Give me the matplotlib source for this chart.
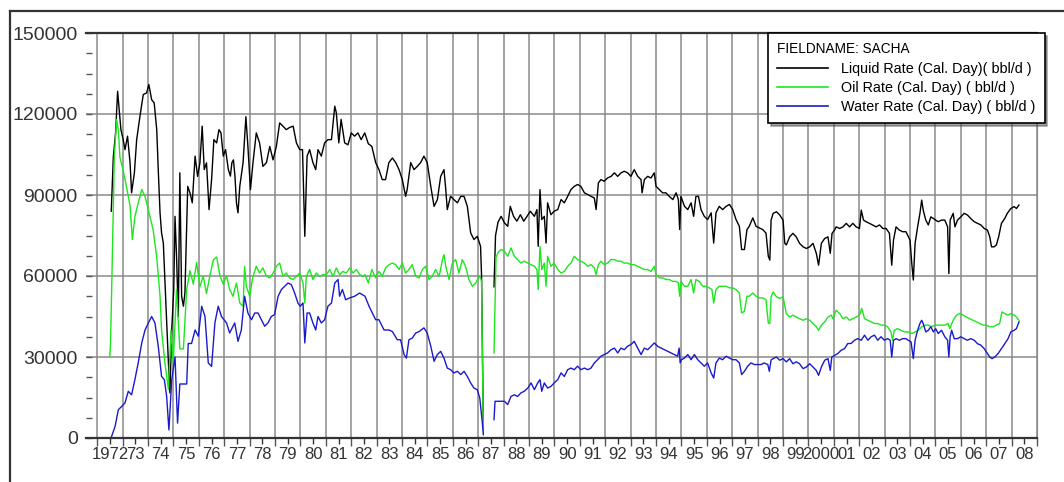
import numpy as np
import matplotlib
matplotlib.use('Agg')
import matplotlib.pyplot as plt
from matplotlib.lines import Line2D

plt.rcParams['font.family'] = ['Liberation Sans', 'DejaVu Sans']

# 液量 (黑线), 年份 / bbl/d ; 1987年停产段用 nan 断开
liquid_yr = [1972.55, 1972.63, 1972.72, 1972.80, 1972.85, 1972.93, 1973.02, 1973.09, 1973.19, 1973.29,
             1973.35, 1973.46, 1973.55, 1973.68, 1973.81, 1973.94, 1974.03, 1974.14, 1974.24, 1974.34,
             1974.40, 1974.47, 1974.53, 1974.60, 1974.66, 1974.73, 1974.80, 1974.86, 1974.93, 1975.01,
             1975.06, 1975.12, 1975.19, 1975.25, 1975.32, 1975.39, 1975.45, 1975.56, 1975.65, 1975.74,
             1975.85, 1975.95, 1976.04, 1976.13, 1976.21, 1976.30, 1976.40, 1976.50, 1976.59, 1976.70,
             1976.79, 1976.87, 1976.96, 1977.05, 1977.16, 1977.24, 1977.30, 1977.36, 1977.42, 1977.48,
             1977.54, 1977.61, 1977.74, 1977.85, 1977.93, 1978.03, 1978.13, 1978.26, 1978.39, 1978.52,
             1978.66, 1978.79, 1978.92, 1979.05, 1979.18, 1979.31, 1979.44, 1979.57, 1979.71, 1979.84,
             1979.97, 1980.08, 1980.17, 1980.26, 1980.36, 1980.49, 1980.60, 1980.69, 1980.82, 1980.95,
             1981.08, 1981.22, 1981.35, 1981.41, 1981.51, 1981.60, 1981.74, 1981.87, 1982.00, 1982.13,
             1982.26, 1982.39, 1982.53, 1982.67, 1982.81, 1982.96, 1983.09, 1983.22, 1983.35, 1983.48,
             1983.62, 1983.75, 1983.88, 1984.01, 1984.14, 1984.20, 1984.34, 1984.47, 1984.60, 1984.73,
             1984.86, 1984.99, 1985.13, 1985.26, 1985.39, 1985.52, 1985.65, 1985.72, 1985.78, 1985.91,
             1986.04, 1986.18, 1986.31, 1986.44, 1986.57, 1986.70, 1986.83, 1986.96, 1987.09, 1987.13,
             1987.16, 1987.20, 1987.40, 1987.62, 1987.68, 1987.78, 1987.90, 1988.03, 1988.16, 1988.26,
             1988.39, 1988.52, 1988.66, 1988.79, 1988.92, 1989.05, 1989.21, 1989.31, 1989.36, 1989.43,
             1989.50, 1989.60, 1989.67, 1989.73, 1989.86, 1989.99, 1990.13, 1990.26, 1990.39, 1990.52,
             1990.65, 1990.78, 1990.91, 1991.04, 1991.18, 1991.31, 1991.44, 1991.57, 1991.64, 1991.73,
             1991.83, 1991.96, 1992.09, 1992.23, 1992.36, 1992.49, 1992.62, 1992.75, 1992.88, 1993.01,
             1993.14, 1993.28, 1993.41, 1993.45, 1993.54, 1993.67, 1993.80, 1993.93, 1994.00, 1994.13,
             1994.26, 1994.39, 1994.52, 1994.66, 1994.79, 1994.88, 1994.93, 1994.98, 1995.12, 1995.25,
             1995.38, 1995.48, 1995.57, 1995.67, 1995.77, 1995.90, 1996.03, 1996.17, 1996.27, 1996.36,
             1996.49, 1996.62, 1996.76, 1996.89, 1997.02, 1997.15, 1997.28, 1997.37, 1997.48, 1997.58,
             1997.67, 1997.81, 1997.94, 1998.07, 1998.20, 1998.33, 1998.42, 1998.48, 1998.53, 1998.61,
             1998.74, 1998.87, 1999.00, 1999.07, 1999.13, 1999.26, 1999.39, 1999.52, 1999.65, 1999.79,
             1999.92, 2000.05, 2000.18, 2000.31, 2000.40, 2000.51, 2000.64, 2000.77, 2000.86, 2000.93,
             2001.03, 2001.09, 2001.23, 2001.36, 2001.49, 2001.62, 2001.75, 2001.88, 2002.01, 2002.08,
             2002.17, 2002.27, 2002.40, 2002.53, 2002.66, 2002.80, 2002.93, 2003.06, 2003.19, 2003.28,
             2003.35, 2003.45, 2003.58, 2003.71, 2003.84, 2004.00, 2004.07, 2004.13, 2004.20, 2004.30,
             2004.39, 2004.46, 2004.52, 2004.62, 2004.72, 2004.82, 2004.92, 2005.01, 2005.11, 2005.24,
             2005.37, 2005.48, 2005.53, 2005.58, 2005.70, 2005.77, 2005.87, 2006.00, 2006.13, 2006.26,
             2006.39, 2006.53, 2006.66, 2006.79, 2006.92, 2007.05, 2007.14, 2007.21, 2007.31, 2007.40,
             2007.49, 2007.60, 2007.73, 2007.83, 2007.97, 2008.10, 2008.19, 2008.29]
liquid_bpd = [84000, 104000, 113000, 128400, 122900, 114200, 110500, 106800, 111800, 101900,
              90800, 98200, 110500, 119200, 127200, 127800, 130900, 125300, 124100, 114200,
              99400, 83400, 76000, 72200, 58700, 42600, 27800, 16700, 40000, 55000,
              82100, 67300, 45000, 98200, 52500, 48800, 53700, 93200, 90800, 87100,
              104400, 96900, 101900, 115500, 99400, 101900, 84600, 95700, 110500, 109300,
              114200, 113000, 104400, 106800, 99400, 97000, 102000, 103000, 97000, 87000,
              83400, 93200, 102000, 119000, 108000, 92000, 102000, 113000, 109300, 100600,
              102000, 108000, 103000, 108000, 116700, 115500, 114200, 115000, 115500, 109300,
              106800, 106800, 74700, 104400, 106800, 102000, 99400, 106800, 104400, 109300,
              110500, 110500, 122900, 120500, 109300, 118000, 109300, 108600, 113000, 111800,
              113000, 110500, 113000, 109000, 108000, 102000, 99400, 95700, 95700, 102000,
              103700, 102000, 99400, 95700, 89500, 92000, 102000, 99400, 100600, 102000,
              104400, 102000, 93200, 85800, 88300, 96900, 99400, 92100, 84600, 89500,
              88300, 87100, 89500, 89500, 85800, 76000, 73500, 74700, 71000, 60000,
              37000, 3500, np.nan, 56000, 75000, 80000, 82100, 79700, 78400, 85800,
              82100, 80300, 82700, 80300, 82100, 84000, 82100, 84600, 71000, 92000,
              80900, 82100, 72200, 87100, 82700, 84000, 84600, 88300, 87100, 89500,
              92000, 93200, 93900, 93200, 90800, 90200, 89500, 88900, 84600, 94500,
              95700, 95100, 96300, 96900, 98200, 96900, 98200, 98800, 98200, 96900,
              99400, 96900, 95700, 90800, 95700, 96900, 96300, 98200, 93200, 92000,
              90800, 90800, 89500, 88300, 90800, 88300, 77200, 89500, 85800, 84600,
              87100, 82100, 89500, 89500, 84600, 82100, 80900, 83400, 72200, 83400,
              85800, 84600, 85800, 86500, 84600, 80900, 78400, 69800, 69800, 77200,
              78400, 81500, 78400, 77800, 77200, 75900, 67300, 65900, 80700, 83200,
              83800, 82600, 80700, 72100, 71500, 74500, 75800, 74500, 72100, 70800,
              70200, 70800, 72100, 68400, 64000, 72100, 73900, 74500, 68400, 75800,
              77000, 78200, 77600, 78200, 79500, 78200, 79500, 78200, 77600, 84400,
              80700, 80100, 79500, 78900, 78200, 78900, 77600, 77600, 75800, 64000,
              73300, 78200, 77000, 76400, 76400, 73300, 64600, 58500, 72100, 78200,
              83200, 88100, 84400, 80700, 78900, 81900, 81300, 80700, 80100, 80700,
              80700, 78200, 60900, 80700, 83200, 78200, 80700, 81900, 83200, 82600,
              81300, 80100, 79500, 78900, 77600, 77000, 74500, 70800, 70800, 71500,
              74500, 79500, 81300, 83200, 85000, 85700, 85000, 86300]

# 产油量 (绿线)
oil_yr = [1972.49, 1972.52, 1972.57, 1972.67, 1972.76, 1972.83, 1972.89, 1973.02, 1973.15, 1973.29,
          1973.38, 1973.48, 1973.61, 1973.75, 1973.88, 1974.01, 1974.20, 1974.34, 1974.47, 1974.53,
          1974.66, 1974.80, 1974.90, 1974.99, 1975.12, 1975.25, 1975.39, 1975.52, 1975.65, 1975.78,
          1975.91, 1976.04, 1976.17, 1976.30, 1976.43, 1976.57, 1976.70, 1976.83, 1976.96, 1977.09,
          1977.21, 1977.34, 1977.48, 1977.61, 1977.74, 1977.80, 1977.87, 1978.00, 1978.13, 1978.26,
          1978.39, 1978.52, 1978.66, 1978.79, 1978.92, 1979.05, 1979.18, 1979.31, 1979.44, 1979.57,
          1979.71, 1979.84, 1979.97, 1980.10, 1980.17, 1980.23, 1980.36, 1980.49, 1980.62, 1980.75,
          1980.89, 1981.02, 1981.15, 1981.28, 1981.41, 1981.54, 1981.67, 1981.80, 1981.94, 1982.07,
          1982.20, 1982.33, 1982.46, 1982.54, 1982.67, 1982.81, 1982.96, 1983.09, 1983.22, 1983.35,
          1983.49, 1983.62, 1983.75, 1983.88, 1984.01, 1984.14, 1984.27, 1984.40, 1984.54, 1984.67,
          1984.80, 1984.93, 1985.06, 1985.19, 1985.32, 1985.46, 1985.59, 1985.65, 1985.72, 1985.85,
          1985.98, 1986.11, 1986.24, 1986.37, 1986.50, 1986.63, 1986.77, 1986.90, 1987.03, 1987.09,
          1987.13, 1987.20, 1987.40, 1987.62, 1987.66, 1987.70, 1987.80, 1987.90, 1988.03, 1988.16,
          1988.29, 1988.42, 1988.55, 1988.68, 1988.81, 1988.95, 1989.08, 1989.21, 1989.31, 1989.36,
          1989.43, 1989.50, 1989.60, 1989.67, 1989.73, 1989.86, 1989.99, 1990.13, 1990.26, 1990.39,
          1990.52, 1990.65, 1990.78, 1990.91, 1991.04, 1991.18, 1991.31, 1991.44, 1991.57, 1991.64,
          1991.73, 1991.83, 1991.96, 1992.09, 1992.23, 1992.36, 1992.49, 1992.62, 1992.75, 1992.88,
          1993.01, 1993.14, 1993.28, 1993.41, 1993.54, 1993.67, 1993.80, 1993.93, 1994.00, 1994.13,
          1994.26, 1994.39, 1994.52, 1994.66, 1994.79, 1994.88, 1994.93, 1994.98, 1995.12, 1995.25,
          1995.38, 1995.48, 1995.57, 1995.70, 1995.84, 1995.97, 1996.10, 1996.20, 1996.27, 1996.36,
          1996.49, 1996.62, 1996.76, 1996.89, 1997.02, 1997.15, 1997.28, 1997.37, 1997.48, 1997.58,
          1997.67, 1997.81, 1997.94, 1998.07, 1998.20, 1998.33, 1998.42, 1998.48, 1998.53, 1998.61,
          1998.74, 1998.87, 1999.00, 1999.13, 1999.26, 1999.39, 1999.52, 1999.65, 1999.79, 1999.92,
          2000.05, 2000.18, 2000.31, 2000.40, 2000.51, 2000.64, 2000.77, 2000.90, 2000.96, 2001.09,
          2001.23, 2001.36, 2001.49, 2001.62, 2001.75, 2001.88, 2002.01, 2002.10, 2002.21, 2002.34,
          2002.47, 2002.60, 2002.73, 2002.86, 2002.99, 2003.12, 2003.25, 2003.31, 2003.38, 2003.51,
          2003.64, 2003.77, 2003.91, 2004.07, 2004.20, 2004.33, 2004.46, 2004.59, 2004.72, 2004.85,
          2004.98, 2005.11, 2005.24, 2005.37, 2005.50, 2005.57, 2005.64, 2005.74, 2005.83, 2005.96,
          2006.09, 2006.22, 2006.35, 2006.49, 2006.62, 2006.75, 2006.88, 2007.01, 2007.14, 2007.27,
          2007.40, 2007.53, 2007.62, 2007.73, 2007.86, 2007.97, 2008.10, 2008.19, 2008.29]
oil_bpd = [30000, 35000, 57000, 104000, 118000, 114000, 104000, 99000, 93000, 86000,
           73500, 82000, 87000, 92000, 89500, 84500, 77000, 67000, 52500, 40000,
           28000, 18000, 40000, 28000, 55000, 33000, 33000, 55000, 62000, 57000,
           65000, 56000, 60000, 53500, 60000, 66000, 67000, 60000, 57000, 60000,
           55000, 52500, 57400, 50000, 48800, 63600, 56200, 52500, 59900, 63600,
           61100, 63000, 59900, 59300, 61100, 63600, 64800, 59900, 61100, 59300,
           58700, 59900, 61100, 57400, 50000, 59900, 62400, 58700, 61100, 59900,
           60500, 60500, 62400, 59900, 63000, 60500, 61700, 61100, 63000, 61100,
           62400, 60500, 59900, 60500, 57400, 62400, 59300, 61700, 59900, 63000,
           64200, 64800, 64200, 62400, 64800, 61100, 62400, 64200, 59900, 59300,
           62400, 63600, 58700, 59900, 62400, 59900, 66100, 67900, 63600, 58700,
           64800, 66100, 61100, 66100, 63600, 58700, 56200, 57400, 59900, 59300,
           58000, 2000, np.nan, 31500, 50000, 67000, 69000, 69800, 69200, 67300,
           70400, 67300, 66100, 64800, 65500, 64800, 64200, 63600, 62400, 55000,
           71000, 62400, 64800, 56200, 67300, 63600, 64800, 62400, 61100, 61700,
           63600, 64800, 67300, 66100, 65500, 64800, 63600, 64200, 63000, 60500,
           64200, 65500, 64200, 64800, 66100, 66100, 65500, 65500, 64800, 64800,
           64200, 64200, 63600, 63000, 62400, 62400, 61700, 63600, 60500, 59300,
           59300, 58700, 58700, 58000, 58000, 57400, 52500, 58000, 56200, 56200,
           58700, 53700, 58700, 58000, 56200, 56200, 55600, 55000, 50000, 55000,
           56200, 56200, 56200, 55600, 55600, 55000, 53700, 46300, 46900, 52500,
           52500, 53700, 52500, 51900, 51900, 51200, 42600, 42400, 52300, 54100,
           52300, 51700, 52300, 46100, 44800, 45500, 44800, 44200, 43600, 44200,
           43600, 42400, 41200, 39900, 41800, 43000, 44800, 45500, 44200, 47300,
           46100, 44200, 44800, 43600, 44200, 44800, 45500, 48000, 44200, 43600,
           43000, 42400, 42400, 41800, 41800, 41200, 39300, 36200, 39900, 40500,
           39900, 39300, 39300, 38700, 39300, 39900, 41200, 41800, 41800, 41200,
           41800, 41800, 41800, 41800, 42400, 40500, 42400, 44200, 45500, 46100,
           45500, 44800, 44200, 43600, 43000, 42400, 41800, 41800, 41200, 41200,
           41800, 42400, 46700, 46100, 45500, 46100, 45500, 44800, 43600]

# 产水量 (蓝线)
water_yr = [1972.52, 1972.56, 1972.70, 1972.83, 1972.96, 1973.09, 1973.22, 1973.35, 1973.48, 1973.61,
            1973.75, 1973.88, 1974.01, 1974.14, 1974.27, 1974.40, 1974.53, 1974.64, 1974.73, 1974.82,
            1974.93, 1975.06, 1975.16, 1975.25, 1975.35, 1975.52, 1975.58, 1975.71, 1975.85, 1975.98,
            1976.11, 1976.24, 1976.37, 1976.50, 1976.63, 1976.76, 1976.89, 1977.09, 1977.21, 1977.41,
            1977.54, 1977.67, 1977.80, 1977.93, 1978.07, 1978.20, 1978.33, 1978.46, 1978.59, 1978.72,
            1978.85, 1978.98, 1979.12, 1979.25, 1979.38, 1979.51, 1979.64, 1979.77, 1979.90, 1979.99,
            1980.10, 1980.17, 1980.26, 1980.36, 1980.49, 1980.60, 1980.69, 1980.82, 1980.95, 1981.08,
            1981.22, 1981.35, 1981.48, 1981.54, 1981.65, 1981.78, 1981.94, 1982.13, 1982.33, 1982.54,
            1982.70, 1982.96, 1983.09, 1983.29, 1983.49, 1983.62, 1983.81, 1983.94, 1984.08, 1984.17,
            1984.27, 1984.40, 1984.54, 1984.67, 1984.86, 1984.99, 1985.13, 1985.26, 1985.39, 1985.52,
            1985.65, 1985.78, 1985.91, 1986.04, 1986.18, 1986.31, 1986.44, 1986.57, 1986.70, 1986.83,
            1986.96, 1987.06, 1987.16, 1987.20, 1987.40, 1987.62, 1987.66, 1987.82, 1987.90, 1988.03,
            1988.16, 1988.29, 1988.42, 1988.55, 1988.68, 1988.81, 1988.95, 1989.08, 1989.21, 1989.34,
            1989.43, 1989.50, 1989.60, 1989.73, 1989.86, 1989.99, 1990.13, 1990.26, 1990.39, 1990.52,
            1990.65, 1990.78, 1990.91, 1991.04, 1991.18, 1991.31, 1991.44, 1991.57, 1991.70, 1991.83,
            1991.96, 1992.09, 1992.23, 1992.36, 1992.49, 1992.62, 1992.75, 1992.88, 1993.01, 1993.14,
            1993.28, 1993.41, 1993.54, 1993.67, 1993.80, 1993.93, 1994.07, 1994.20, 1994.33, 1994.46,
            1994.59, 1994.72, 1994.85, 1994.91, 1994.95, 1995.00, 1995.12, 1995.25, 1995.38, 1995.51,
            1995.64, 1995.77, 1995.90, 1996.03, 1996.17, 1996.27, 1996.36, 1996.49, 1996.62, 1996.76,
            1996.89, 1997.02, 1997.15, 1997.28, 1997.37, 1997.48, 1997.61, 1997.74, 1997.87, 1998.00,
            1998.13, 1998.26, 1998.40, 1998.46, 1998.53, 1998.61, 1998.74, 1998.87, 1999.00, 1999.13,
            1999.26, 1999.39, 1999.52, 1999.65, 1999.79, 1999.92, 2000.05, 2000.18, 2000.31, 2000.40,
            2000.51, 2000.64, 2000.77, 2000.86, 2000.92, 2001.03, 2001.16, 2001.29, 2001.42, 2001.55,
            2001.68, 2001.81, 2001.94, 2002.08, 2002.21, 2002.34, 2002.47, 2002.60, 2002.73, 2002.86,
            2002.99, 2003.12, 2003.22, 2003.28, 2003.35, 2003.45, 2003.58, 2003.71, 2003.84, 2003.93,
            2004.04, 2004.13, 2004.20, 2004.30, 2004.39, 2004.46, 2004.52, 2004.62, 2004.72, 2004.82,
            2004.92, 2005.01, 2005.11, 2005.24, 2005.37, 2005.48, 2005.53, 2005.58, 2005.64, 2005.74,
            2005.87, 2006.00, 2006.13, 2006.26, 2006.39, 2006.53, 2006.66, 2006.79, 2006.92, 2007.05,
            2007.14, 2007.23, 2007.34, 2007.47, 2007.60, 2007.73, 2007.86, 2007.97, 2008.10, 2008.19,
            2008.29]
water_bpd = [0, 500, 4300, 10500, 11700, 13000, 17300, 16000, 21600, 27800,
             35200, 40000, 42600, 45000, 42600, 34000, 22800, 21600, 15400, 3000,
             21600, 30000, 5500, 20000, 20000, 20000, 35000, 35000, 40000, 37700,
             48800, 45000, 27800, 26500, 42600, 48800, 45000, 42600, 38900, 42600,
             35800, 40000, 52500, 46300, 43800, 46300, 46300, 43800, 41400, 42600,
             45000, 45700, 52500, 55000, 56200, 57400, 56800, 53700, 50000, 48800,
             50000, 35200, 46300, 46300, 42600, 40000, 45000, 42600, 43800, 48800,
             50000, 57400, 58700, 52500, 55000, 51200, 51900, 52500, 53700, 52500,
             48800, 43800, 43800, 40000, 40000, 39400, 36400, 36400, 30900, 29600,
             36400, 37000, 38900, 39400, 40800, 38900, 34000, 28400, 30900, 32100,
             29600, 25900, 25300, 24100, 24700, 23500, 24700, 22800, 20400, 18500,
             17900, 14800, 5600, 1200, np.nan, 6800, 13600, 13600, 13600, 13600,
             12400, 15400, 16000, 15400, 16700, 17300, 18500, 20400, 17900, 20400,
             21600, 17300, 20400, 18500, 19100, 20400, 21600, 24100, 22800, 25300,
             25900, 25300, 26600, 25300, 25900, 25300, 25900, 27800, 29000, 30300,
             30900, 31500, 32700, 33300, 31500, 33300, 32700, 34000, 34600, 35800,
             33300, 30900, 33300, 32700, 33900, 35200, 33900, 33300, 32700, 32100,
             31500, 30900, 30300, 33300, 27800, 29000, 29600, 30900, 29000, 30900,
             29000, 27800, 26600, 27800, 24100, 22200, 27800, 29600, 29000, 30300,
             29600, 29000, 29000, 27800, 23500, 24700, 26600, 27800, 27200, 27200,
             27200, 27800, 27200, 24700, 28900, 29400, 30000, 28800, 29400, 28200,
             29400, 27500, 28200, 27500, 25700, 26300, 27500, 26300, 25000, 23200,
             26300, 28800, 29400, 25000, 30000, 30600, 31300, 32500, 33100, 35000,
             35000, 36200, 36800, 36200, 38100, 36200, 37500, 38100, 36200, 37500,
             36200, 36800, 36200, 30000, 36200, 36800, 36200, 36800, 36800, 36200,
             35600, 29400, 36200, 39900, 42400, 43600, 42400, 39300, 39900, 41200,
             39300, 40500, 38700, 39900, 37500, 36200, 30000, 37500, 39900, 36800,
             36800, 37500, 36800, 36200, 36800, 36200, 34900, 34400, 33100, 31300,
             30000, 29400, 30000, 31300, 33100, 34900, 36800, 39300, 39900, 40500,
             43000]

years = np.arange(1972, 2010)
year_labels = ['1972'] + ['%02d' % (y % 100) for y in range(1973, 2000)] + ['2000'] + \
              ['%02d' % (y % 100) for y in range(2001, 2009)]

W, H = 1064, 482
fig = plt.figure(figsize=(W / 100, H / 100), dpi=100)
ax = fig.add_axes([86 / W, 1 - 438 / H, (1037 - 86) / W, (438 - 33) / H])

l1, = ax.plot(liquid_yr, liquid_bpd, color='black', lw=1.0)
l2, = ax.plot(oil_yr, oil_bpd, color='#1ee61e', lw=1.0)
l3, = ax.plot(water_yr, water_bpd, color='#1a1acd', lw=1.0)

ax.set_xlim(1971.555, 2009.0)
ax.set_ylim(0, 150000)

# 年份网格线 + 半年刻度，年份标签放在每年中间
ax.set_xticks(years)
ax.set_xticklabels([])
ax.set_xticks(years[:-1] + 0.5, minor=True)
ax.set_xticklabels(year_labels, minor=True)
ax.tick_params(axis='x', which='major', direction='out', length=6, width=1.0, color='#555555')
ax.tick_params(axis='x', which='minor', direction='out', length=4, width=1.0, color='#333333',
               pad=2.5, labelsize=12, labelcolor='#333333')

ax.set_yticks(np.arange(0, 150001, 30000))
ax.set_yticks(np.arange(0, 150001, 7500), minor=True)
ax.tick_params(axis='y', which='both', direction='in', length=4, width=1.0, color='#555555',
               pad=6, labelsize=14, labelcolor='#333333')

ax.grid(True, which='major', color='#8a8a8a', lw=1.1)
ax.set_axisbelow(True)
ax.spines['left'].set_visible(False)
ax.spines['right'].set_color('#8a8a8a')
ax.spines['top'].set_color('#333333')
ax.spines['bottom'].set_color('#333333')
for s in ['top', 'bottom']:
    ax.spines[s].set_linewidth(1.6)

leg = ax.legend([l1, l2, l3],
                ['Liquid Rate (Cal. Day)( bbl/d )', 'Oil Rate (Cal. Day) ( bbl/d )',
                 'Water Rate (Cal. Day) ( bbl/d )'],
                title='FIELDNAME: SACHA', alignment='left',
                loc='upper left', bbox_to_anchor=(768 / W, 1 - 33 / H), bbox_transform=fig.transFigure,
                fontsize=10.4, title_fontsize=9.8, handlelength=3.5, handletextpad=0.9,
                labelspacing=0.36, borderpad=0.65, borderaxespad=0, fancybox=False, shadow=True,
                framealpha=1, edgecolor='black')
leg.get_frame().set_linewidth(1.2)
for h in leg.get_lines():
    h.set_linewidth(1.2)

# 外框
fig.add_artist(Line2D([10 / W, 10 / W], [0, 1 - 11 / H], color='#333333', lw=1.6))
fig.add_artist(Line2D([10 / W, 1], [1 - 11 / H, 1 - 11 / H], color='#333333', lw=1.6))

plt.savefig('out.png', dpi=100)
